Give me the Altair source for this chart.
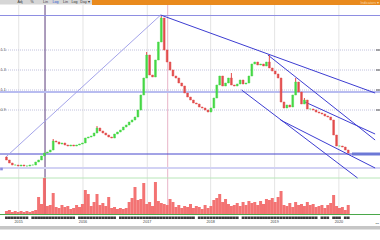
import altair as alt
import pandas as pd

# ---------------- data ----------------
close = [0.40, 0.37, 0.35, 0.35, 0.34, 0.35, 0.34, 0.34, 0.35, 0.35,
         0.38, 0.40, 0.44, 0.47, 0.48, 0.50, 0.59, 0.58, 0.56, 0.57,
         0.55, 0.54, 0.55, 0.54, 0.55, 0.56, 0.57, 0.62, 0.63, 0.64,
         0.67, 0.72, 0.69, 0.67, 0.65, 0.63, 0.62, 0.66, 0.68, 0.70,
         0.73, 0.75, 0.78, 0.80, 0.83, 0.90, 1.05, 1.22, 1.45, 1.25,
         1.23, 1.40, 1.58, 1.82, 1.50, 1.38, 1.30, 1.24, 1.22, 1.17,
         1.14, 1.07, 1.03, 1.00, 0.97, 0.96, 0.93, 0.92, 0.90, 0.88,
         0.92, 1.02, 1.15, 1.24, 1.14, 1.17, 1.22, 1.15, 1.14, 1.16,
         1.20, 1.16, 1.17, 1.24, 1.36, 1.38, 1.35, 1.36, 1.34, 1.38,
         1.32, 1.29, 1.26, 1.22, 0.98, 0.92, 0.95, 0.93, 1.05, 1.18,
         1.08, 0.96, 1.00, 0.91, 0.91, 0.90, 0.88, 0.87, 0.86, 0.84,
         0.83, 0.80, 0.65, 0.54, 0.54, 0.53, 0.50, 0.47]
first_open = 0.43

volume = [3, 4, 2, 3, 2, 3, 2, 3, 2, 3,
          4, 17, 10, 36, 8, 9, 21, 7, 6, 9,
          7, 8, 5, 6, 9, 7, 10, 24, 20, 8,
          12, 20, 9, 11, 8, 17, 6, 7, 5, 6,
          5, 6, 12, 16, 27, 14, 15, 31, 10, 12,
          8, 32, 13, 11, 10, 9, 15, 12, 7, 9,
          6, 8, 7, 10, 6, 8, 7, 5, 9, 6,
          8, 14, 16, 20, 12, 15, 10, 8, 9, 11,
          8, 12, 9, 13, 11, 12, 9, 13, 10, 15,
          14, 16, 12, 17, 23, 9, 8, 11, 7, 12,
          9, 10, 8, 12, 9, 10, 7, 8, 9, 6,
          9, 11, 19, 8, 6, 7, 4, 9]

spike_bar = [16, 31, 48, 53, 77, 90, 99, 102]
spike_high = [0.61, 0.74, 1.48, 1.84, 1.27, 1.45, 1.22, 1.02]

trend_x1 = [0.3, 53.3, 90.0, 102.7, 81.0, 94.3]
trend_p1 = [0.43, 1.85, 1.45, 0.98, 1.10, 0.80]
trend_x2 = [53.3, 126.7, 126.7, 126.7, 120.7, 126.7]
trend_p2 = [1.85, 1.07, 0.60, 0.66, 0.22, 0.32]
trend_color = ["#a4a4ea", "#3d3dd2", "#3d3dd2", "#3d3dd2", "#3d3dd2", "#3d3dd2"]

level_p = [1.845, 1.08, 0.46, 0.32]
level_color = ["#8e8ee2", "#b8bcf0", "#4646cc", "#d2d2f4"]
level_width = [1, 2, 1, 2]

grid_p = [1.5, 1.3, 1.1, 0.9]
grid_label = ["1.5", "1.3", "1.1", "0.9"]
vgrid_x = [4.7, 26.7, 48.7, 70.4, 92.3, 114.3]
date_labels = ["2015", "2016", "2017", "2018", "2019", "2020"]
marker_x = [13.7, 55.7]
marker_color = ["#5a3a7a", "#e8b4c8"]

toolbar_text = ["Adj", "%", "Lin", "Log", "Lin", "Log", "Day", "\u25be"]
toolbar_px = [20, 32, 45.5, 55.5, 65.5, 74.5, 83.5, 89]
toolbar_col = ["#333", "#333", "#333", "#2a4fd0", "#333", "#333", "#333", "#333"]

tick_gaps = [8, 24, 38, 65, 80, 107, 111, 115]

# ---------------- tables ----------------
n = len(close)
opens = [first_open] + close[:-1]
candles = pd.DataFrame({
    "bar": [i + 0.5 for i in range(n)],
    "open": opens,
    "close": close,
    "vol": volume,
    "dir": ["up" if c >= o else "down" for o, c in zip(opens, close)],
})
spikes = pd.DataFrame({
    "bar": [b + 0.5 for b in spike_bar],
    "base": [max(opens[b], close[b]) for b in spike_bar],
    "high": spike_high,
})
trends = pd.DataFrame({"x1": trend_x1, "p1": trend_p1, "x2": trend_x2,
                       "p2": trend_p2, "c": trend_color})
levels = pd.DataFrame({"p": level_p, "c": level_color, "w": level_width})
grid = pd.DataFrame({"p": grid_p, "t": grid_label})
vgrid = pd.DataFrame({"x": vgrid_x, "t": date_labels})
markers = pd.DataFrame({"x": marker_x, "c": marker_color})
toolbar = pd.DataFrame({"px": toolbar_px, "t": toolbar_text, "c": toolbar_col})
ticks = candles[[i not in tick_gaps for i in range(n)]]

XS = alt.Scale(domain=[0, 380 / 3], nice=False, zero=False)
PS = alt.Scale(domain=[-0.4, 2.0], nice=False, zero=False)
VS = alt.Scale(domain=[-26, 214], nice=False, zero=False)

def X(f):
    return alt.X(f, type="quantitative", scale=XS, axis=None)

def PY(f):
    return alt.Y(f, type="quantitative", scale=PS, axis=None)

blank = alt.Data(values=[{}])
FONT = "Liberation Sans"

layers = []

# toolbar
layers.append(alt.Chart(blank).mark_rect(color="#d6d6d6").encode(
    x=alt.value(0), x2=alt.value(92), y=alt.value(0), y2=alt.value(4.5)))
layers.append(alt.Chart(blank).mark_rect(color="#e98a1d").encode(
    x=alt.value(92), x2=alt.value(380), y=alt.value(0), y2=alt.value(5)))
layers.append(alt.Chart(toolbar).mark_text(fontSize=3.6, font=FONT, baseline="middle").encode(
    x=alt.X("px:Q", scale=None), y=alt.value(2.3), text="t:N",
    color=alt.Color("c:N", scale=None)))
layers.append(alt.Chart(blank).mark_text(fontSize=3.6, font=FONT, color="#f7d9b0",
                                         align="right", baseline="middle", text="Indicators \u25be").encode(
    x=alt.value(379), y=alt.value(2.5)))

# grids
layers.append(alt.Chart(vgrid).mark_rule(color="#e4e4e4", strokeWidth=1).encode(
    x=X("x"), y=alt.value(5), y2=alt.value(214)))
layers.append(alt.Chart(grid).mark_rule(color="#c2c2de", strokeWidth=1, strokeDash=[1, 1]).encode(
    y=PY("p"), x=alt.value(0), x2=alt.value(380)))
layers.append(alt.Chart(grid).mark_text(fontSize=3.8, font=FONT, color="#555", align="left",
                                        baseline="middle").encode(
    y=PY("p"), x=alt.value(0.5), text="t:N"))
layers.append(alt.Chart(grid).mark_rule(color="#555", strokeWidth=1).encode(
    y=PY("p"), x=alt.value(376), x2=alt.value(380)))

# marker verticals
layers.append(alt.Chart(markers).mark_rule(strokeWidth=1).encode(
    x=X("x"), y=alt.value(5), y2=alt.value(215), color=alt.Color("c:N", scale=None)))

# separator / volume baseline
layers.append(alt.Chart(blank).mark_rule(color="#b8e6b8", strokeWidth=1).encode(
    x=alt.value(0), x2=alt.value(380), y=alt.value(178)))
layers.append(alt.Chart(blank).mark_rule(color="#4aa84a", strokeWidth=1).encode(
    x=alt.value(0), x2=alt.value(380), y=alt.value(214.5)))

# volume
layers.append(alt.Chart(candles).mark_bar(width=3.0, color="#f26464", opacity=0.9).encode(
    x=X("bar"), y=alt.Y("vol:Q", scale=VS, axis=None), y2=alt.datum(0)))

# horizontal levels
layers.append(alt.Chart(levels).mark_rule().encode(
    y=PY("p"), x=alt.value(0), x2=alt.value(380),
    color=alt.Color("c:N", scale=None), strokeWidth=alt.StrokeWidth("w:Q", scale=None)))
layers.append(alt.Chart(blank).mark_rule(color="#6c78d6", strokeWidth=3).encode(
    y=alt.Y(datum=0.46, scale=PS, axis=None), x=alt.value(352), x2=alt.value(380)))
layers.append(alt.Chart(blank).mark_square(size=7, color="#8c8ce0", opacity=1).encode(
    y=alt.Y(datum=0.31, scale=PS, axis=None), x=alt.value(1.5)))

# trend lines
layers.append(alt.Chart(trends).mark_rule(strokeWidth=1).encode(
    x=X("x1"), x2="x2", y=PY("p1"), y2="p2", color=alt.Color("c:N", scale=None)))

# candles
cscale = alt.Scale(domain=["up", "down"], range=["#46d846", "#e24c4c"])
layers.append(alt.Chart(spikes).mark_rule(strokeWidth=1, color="#e24c4c").encode(
    x=X("bar"), y=PY("base"), y2="high"))
layers.append(alt.Chart(candles).mark_bar(width=1.8, strokeWidth=0.5).encode(
    x=X("bar"), y=PY("open"), y2="close",
    color=alt.Color("dir:N", scale=cscale, legend=None),
    stroke=alt.Stroke("dir:N", scale=cscale, legend=None)))

# bottom date axis
layers.append(alt.Chart(ticks).mark_rule(color="#3a3a3a", strokeWidth=2.8).encode(
    x=X("bar"), y=alt.value(216.5), y2=alt.value(219)))
layers.append(alt.Chart(vgrid).mark_text(fontSize=3.8, font=FONT, color="#444", baseline="middle").encode(
    x=X("x"), y=alt.value(222), text="t:N"))
layers.append(alt.Chart(blank).mark_rect(color="#c6c6c6").encode(
    x=alt.value(0), x2=alt.value(380), y=alt.value(226), y2=alt.value(229.5)))
layers.append(alt.Chart(blank).mark_text(fontSize=3.4, font=FONT, color="#777", align="right",
                                         baseline="middle", text="\u2022\u2022\u2022").encode(
    x=alt.value(379), y=alt.value(224)))

chart = (
    alt.layer(*layers)
    .resolve_scale(y="independent", color="independent", stroke="independent")
    .properties(width=380, height=240, padding=0,
                autosize=alt.AutoSizeParams(type="none"), background="white")
    .configure_view(strokeWidth=0)
)

chart.save("out.html", embed_options={"renderer": "svg", "actions": False})
